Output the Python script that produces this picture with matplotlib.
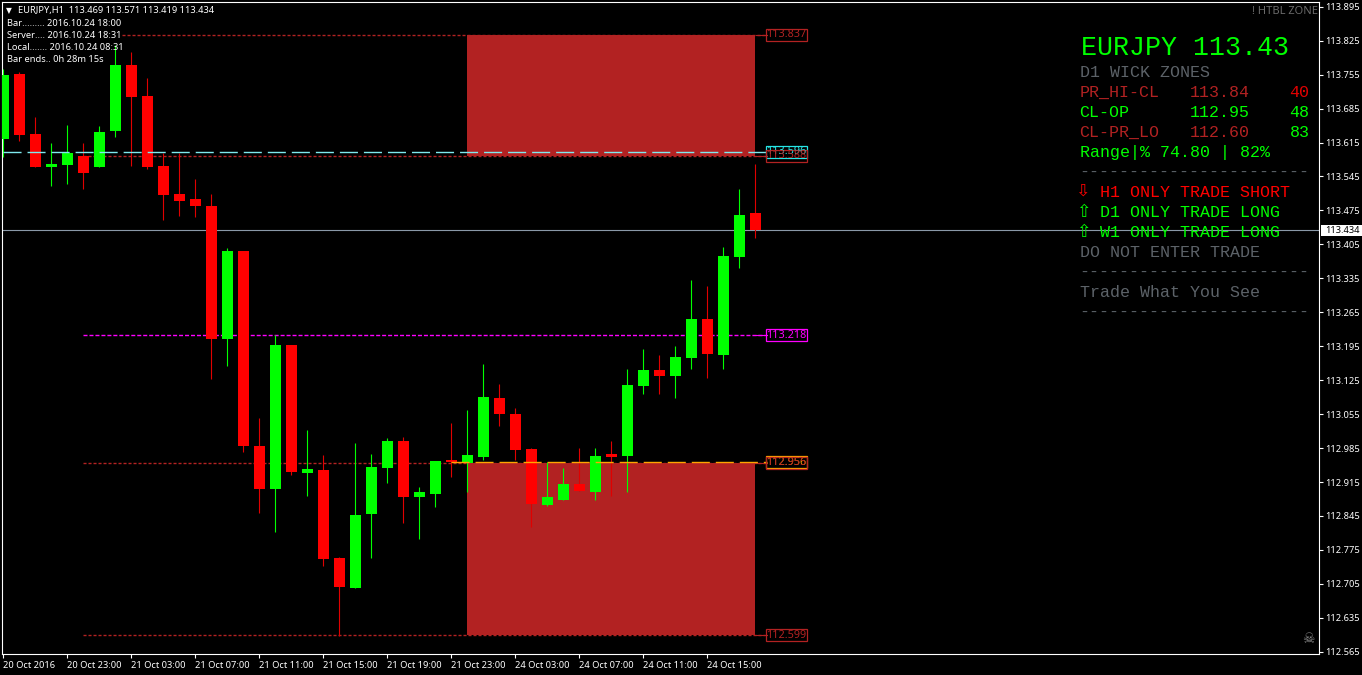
import matplotlib
matplotlib.use("Agg")
from matplotlib import pyplot as plt
from matplotlib.patches import Rectangle

W, H = 1362, 675

opens = [113.622, 113.756, 113.633, 113.564, 113.569, 113.587, 113.564, 113.639, 113.775, 113.711,
         113.566, 113.509, 113.498, 113.484, 113.210, 113.391, 112.989, 112.901, 113.197, 112.934,
         112.940, 112.758, 112.696, 112.849, 112.944, 113.000, 112.884, 112.890, 112.960, 112.954,
         112.966, 113.088, 113.055, 112.983, 112.868, 112.878, 112.911, 112.894, 112.973, 112.969,
         113.113, 113.146, 113.134, 113.171, 113.251, 113.177, 113.379, 113.469]
highs = [113.767, 113.760, 113.668, 113.614, 113.651, 113.614, 113.649, 113.816, 113.802, 113.748,
         113.593, 113.593, 113.540, 113.509, 113.397, 113.391, 113.047, 113.218, 113.197, 113.022,
         112.971, 112.760, 112.995, 112.973, 113.006, 113.008, 112.905, 112.958, 113.037, 113.063,
         113.158, 113.117, 113.067, 112.985, 112.956, 112.944, 112.985, 112.985, 113.000, 113.148,
         113.189, 113.177, 113.195, 113.332, 113.319, 113.400, 113.519, 113.571]
lows = [113.585, 113.618, 113.564, 113.525, 113.529, 113.519, 113.564, 113.626, 113.566, 113.560,
        113.455, 113.463, 113.461, 113.127, 113.154, 112.977, 112.851, 112.812, 112.929, 112.886,
        112.742, 112.597, 112.696, 112.758, 112.913, 112.830, 112.797, 112.863, 112.925, 112.894,
        112.960, 113.030, 112.960, 112.822, 112.865, 112.878, 112.896, 112.878, 112.886, 112.894,
        113.096, 113.096, 113.088, 113.148, 113.129, 113.148, 113.356, 113.419]
closes = [113.754, 113.630, 113.564, 113.571, 113.593, 113.552, 113.637, 113.775, 113.709, 113.564,
          113.507, 113.494, 113.484, 113.210, 113.391, 112.989, 112.901, 113.197, 112.936, 112.942,
          112.756, 112.698, 112.847, 112.946, 113.000, 112.884, 112.894, 112.958, 112.956, 112.971,
          113.090, 113.055, 112.981, 112.870, 112.884, 112.911, 112.896, 112.969, 112.966, 113.115,
          113.146, 113.134, 113.173, 113.251, 113.179, 113.381, 113.466, 113.434]

y_ticks = [113.895, 113.825, 113.755, 113.685, 113.615, 113.545, 113.475, 113.405, 113.335, 113.265,
           113.195, 113.125, 113.055, 112.985, 112.915, 112.845, 112.775, 112.705, 112.635, 112.565]
x_ticks = [0, 4, 8, 12, 16, 20, 24, 28, 32, 36, 40, 44]
x_labels = ["20 Oct 2016", "20 Oct 23:00", "21 Oct 03:00", "21 Oct 07:00", "21 Oct 11:00", "21 Oct 15:00",
            "21 Oct 19:00", "21 Oct 23:00", "24 Oct 03:00", "24 Oct 07:00", "24 Oct 11:00", "24 Oct 15:00"]

bid = 113.434
zone_hi = 113.837
zone_hi_low = 113.588
zone_lo_top = 112.955
zone_lo = 112.599
pivot = 113.218
cyan_level = 113.596
orange_level = 112.956

info_rows = ["Bar......... 2016.10.24 18:00", "Server.... 2016.10.24 18:31",
             "Local....... 2016.10.24 08:31", "Bar ends.. 0h 28m 15s"]

FIRE = "#b22222"
LIME = "#00ff00"
GREY = "#5c6268"
UI = "Noto Sans"
MONO = "Liberation Mono"


def fx(x):
    return x / W


def fy(y):
    return 1 - y / H


def price_y(y):
    return 113.895 - (y - 6.7) / 485


def bar_x(x):
    return (x - 3.4) / 16


fig = plt.figure(figsize=(W / 100, H / 100), dpi=100, facecolor="black")
ax = fig.add_axes([fx(2), fy(654), fx(1319 - 2), (654 - 2) / H], facecolor="black")
ax.set_xlim(bar_x(2), bar_x(1319))
ax.set_ylim(price_y(654), price_y(2))

for s in ax.spines.values():
    s.set_color("white")
    s.set_linewidth(0.8)

ax.set_yticks(y_ticks)
ax.set_yticklabels(["%.3f" % v for v in y_ticks], fontsize=6.7, color="white", family=UI)
ax.yaxis.tick_right()
ax.set_xticks(x_ticks)
ax.set_xticklabels(x_labels, fontsize=6.7, color="white", family=UI, ha="left")
ax.tick_params(axis="both", colors="white", length=3, width=0.8, pad=2)
ax.tick_params(axis="y", pad=1.5)

# supply and demand boxes
ax.add_patch(Rectangle((29, zone_hi_low), 18, zone_hi - zone_hi_low, color=FIRE, lw=0, zorder=1))
ax.add_patch(Rectangle((29, zone_lo), 18, zone_lo_top - zone_lo, color=FIRE, lw=0, zorder=1))

# bid line
ax.axhline(bid, color="#8a99a8", lw=0.8, zorder=2)

# thin dashed levels
ax.plot([7.4, 47.6], [zone_hi, zone_hi], color=FIRE, lw=1, ls=(0, (2.2, 1.4)), zorder=2)
for lv in [zone_hi_low, zone_lo_top, zone_lo]:
    ax.plot([5, 47.6], [lv, lv], color=FIRE, lw=1, ls=(0, (2.2, 1.4)), zorder=2)
ax.plot([5, 47.6], [pivot, pivot], color="#ff00ff", lw=1, ls=(0, (2.9, 1.4)), zorder=2)

# connectors to the labels
for lv, col in [(zone_hi, FIRE), (zone_hi_low, FIRE), (zone_lo_top, FIRE), (zone_lo, FIRE), (pivot, "#ff00ff")]:
    ax.plot([47.05, 47.7], [lv, lv], color=col, lw=0.8, zorder=2)

# candles
for i in range(len(opens)):
    up = closes[i] >= opens[i]
    col = LIME if up else "#ff0000"
    wick = LIME if up else "#e00000"
    ax.vlines(i, lows[i], highs[i], color=wick, lw=0.8, zorder=3)
    ax.bar(i, abs(closes[i] - opens[i]), bottom=min(opens[i], closes[i]), width=0.69, color=col, lw=0, zorder=4)

# long dash lines go over the candles
long_dash = (0, (13, 4.3))
ax.plot([0, 47.7], [cyan_level, cyan_level], color="#7fe9ee", lw=1, ls=long_dash, zorder=5)
ax.plot([28, 47.7], [orange_level, orange_level], color="#ffa500", lw=1, ls=long_dash, zorder=5)


def level_label(text, lv, col):
    y = 6.7 + (113.895 - lv) * 485
    fig.add_artist(Rectangle((fx(766), fy(y + 6)), 41 / W, 12 / H, transform=fig.transFigure,
                             fill=False, ec=col, lw=0.9, zorder=6))
    fig.text(fx(786.5), fy(y), text, color=col, fontsize=7.8, family=UI, ha="center", va="center", zorder=7)


level_label("113.837", zone_hi, FIRE)
level_label("113.596", cyan_level, "#26e6e6")
level_label("113.588", zone_hi_low, FIRE)
level_label("113.218", pivot, "#ff00ff")
level_label("112.956", orange_level, "#ffa500")
level_label("112.955", zone_lo_top, FIRE)
level_label("112.599", zone_lo, FIRE)

# bid tag on the price scale
bid_y = 6.7 + (113.895 - bid) * 485
fig.add_artist(Rectangle((fx(1321), fy(bid_y + 5.5)), 41 / W, 11 / H, transform=fig.transFigure,
                         fc="white", ec="none", zorder=8))
fig.text(fx(1325), fy(bid_y), "113.434", color="black", fontsize=6.7, family=UI, va="center", zorder=9)

# header and clock rows
fig.text(fx(9), fy(10.5), "\u25bc", color="white", fontsize=5.5, family="DejaVu Sans", ha="center", va="center")
fig.text(fx(18), fy(10.5), "EURJPY,H1  113.469 113.571 113.419 113.434", color="white", fontsize=6.7,
         family=UI, va="center")
for n, row in enumerate(info_rows):
    fig.text(fx(7), fy(23.5 + 12 * n), row, color="white", fontsize=6.7, family=UI, va="center", zorder=8)

fig.text(fx(1318), fy(11), "! HTBL ZONE", color="#6a6a6a", fontsize=8, family=UI, weight="bold",
         ha="right", va="center")
fig.text(fx(1308), fy(639), "\u2620", color="#8a8a8a", fontsize=10, family="DejaVu Sans", ha="center", va="center")


# right hand panel
def panel(x, y, text, col, size=12):
    fig.text(fx(x), fy(y), text, color=col, fontsize=size, family=MONO, va="center", zorder=8)


panel(1081, 48, "EURJPY 113.43", LIME, 19.2)
panel(1079.5, 72.5, "D1 WICK ZONES", GREY)
panel(1079.5, 92.5, "PR_HI-CL", FIRE)
panel(1189.5, 92.5, "113.84", FIRE)
panel(1289.5, 92.5, "40", "#e00000")
panel(1079.5, 112.5, "CL-OP", LIME)
panel(1189.5, 112.5, "112.95", LIME)
panel(1289.5, 112.5, "48", LIME)
panel(1079.5, 132.5, "CL-PR_LO", FIRE)
panel(1189.5, 132.5, "112.60", FIRE)
panel(1289.5, 132.5, "83", LIME)
panel(1079.5, 152.5, "Range|% 74.80 | 82%", LIME)
panel(1079.5, 172.5, "-" * 23, GREY)
panel(1099.5, 192.5, "H1 ONLY TRADE SHORT", "#ff0000")
panel(1099.5, 212.5, "D1 ONLY TRADE LONG", LIME)
panel(1099.5, 232.5, "W1 ONLY TRADE LONG", LIME)
panel(1079.5, 252.5, "DO NOT ENTER TRADE", GREY)
panel(1079.5, 272.5, "-" * 23, GREY)
panel(1079.5, 292.5, "Trade What You See", GREY)
panel(1079.5, 312.5, "-" * 23, GREY)
fig.text(fx(1082), fy(191), "\u21e9", color="#ff0000", fontsize=12.5, family="DejaVu Sans", ha="center", va="center")
fig.text(fx(1083), fy(212), "\u21e7", color=LIME, fontsize=12.5, family="DejaVu Sans", ha="center", va="center")
fig.text(fx(1083), fy(232), "\u21e7", color=LIME, fontsize=12.5, family="DejaVu Sans", ha="center", va="center")

fig.savefig("out.png", dpi=100, facecolor="black")
